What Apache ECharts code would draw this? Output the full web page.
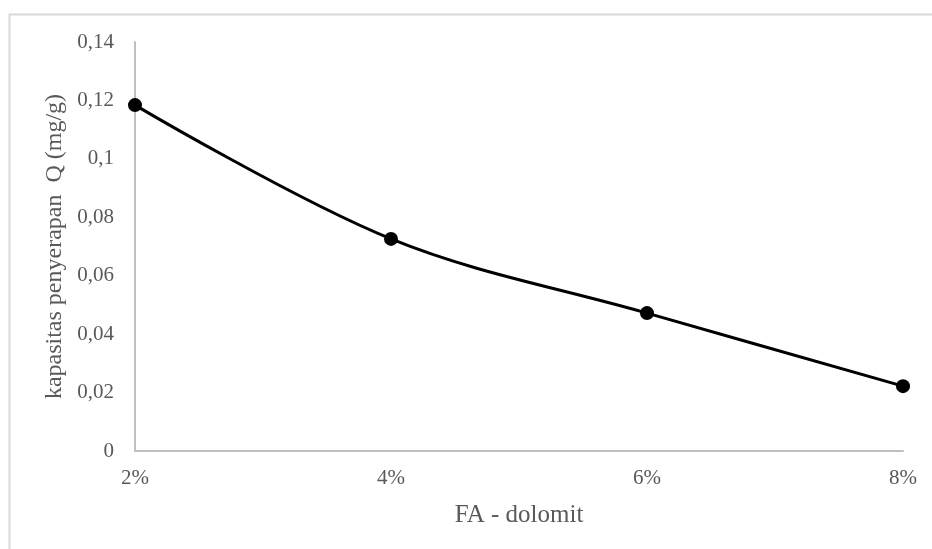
<!DOCTYPE html>
<html>
<head>
<meta charset="utf-8">
<script src="https://cdn.jsdelivr.net/npm/echarts@6/dist/echarts.min.js"></script>
<style>
html,body{margin:0;padding:0;background:#fff;}
#chart{width:932px;height:549px;}
</style>
</head>
<body>
<div id="chart"></div>
<script>
const categories = ['2%', '4%', '6%', '8%'];
const capacity = [0.1184, 0.0726, 0.0472, 0.0222];
const xTitle = 'FA - dolomit';
const yTitle = 'kapasitas penyerapan  Q (mg/g)';

const chart = echarts.init(document.getElementById('chart'));
const font = '"Liberation Serif", "Times New Roman", serif';
chart.setOption({
  animation: false,
  backgroundColor: '#fff',
  graphic: [{
    type: 'rect',
    shape: { x: 9.5, y: 14.5, width: 1000, height: 1000 },
    style: { fill: 'none', stroke: '#d9d9d9', lineWidth: 2 },
    silent: true, z: -1
  }],
  grid: { left: 135, right: 29, top: 42, bottom: 98, containLabel: false },
  xAxis: {
    type: 'category',
    data: categories,
    boundaryGap: false,
    name: xTitle,
    nameLocation: 'middle',
    nameGap: 52,
    nameTextStyle: { fontFamily: font, fontSize: 25, color: '#595959' },
    axisLine: { lineStyle: { color: '#bfbfbf', width: 2 } },
    axisTick: { show: false },
    axisLabel: { fontFamily: font, fontSize: 21, color: '#595959', margin: 17 },
    splitLine: { show: false }
  },
  yAxis: {
    type: 'value',
    min: 0, max: 0.14, interval: 0.02,
    name: yTitle,
    nameLocation: 'middle',
    nameGap: 66,
    nameTextStyle: { fontFamily: font, fontSize: 24, color: '#595959' },
    axisLine: { show: true, lineStyle: { color: '#bfbfbf', width: 2 } },
    axisTick: { show: false },
    splitLine: { show: false },
    axisLabel: {
      fontFamily: font, fontSize: 21, color: '#595959', margin: 21,
      formatter: v => String(+v.toFixed(2)).replace('.', ',')
    }
  },
  series: [{
    type: 'line',
    data: capacity,
    smooth: 0.35,
    symbol: 'circle',
    symbolSize: 14,
    lineStyle: { color: '#000', width: 3 },
    itemStyle: { color: '#000' }
  }]
});
</script>
</body>
</html>
